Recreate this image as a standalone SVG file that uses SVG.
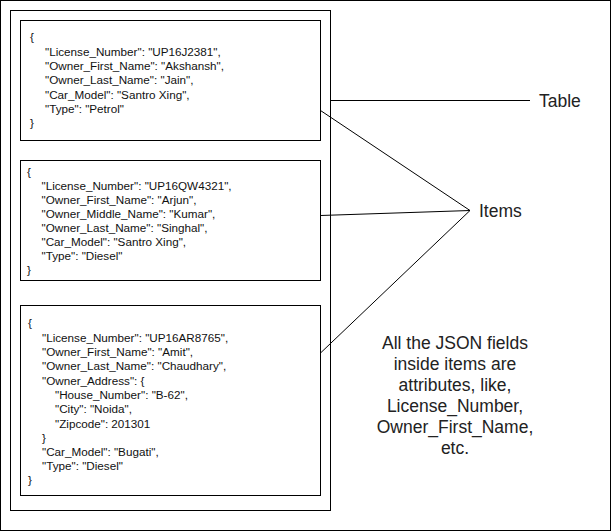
<svg xmlns="http://www.w3.org/2000/svg" width="611" height="531" viewBox="0 0 611 531">
<style>
.box{fill:#fff;stroke:#000;stroke-width:1}
.json{font-family:"Liberation Sans",Arial,sans-serif;font-size:11.7px;fill:#111}
.lbl{font-family:"Liberation Sans",Arial,sans-serif;font-size:17.5px;fill:#222}
.con{stroke:#000;stroke-width:1;fill:none}
</style>
<rect x="0.5" y="0.5" width="610" height="530" fill="#fff" stroke="#000"/>
<g id="table"><rect class="box" x="10.5" y="10.5" width="320" height="500"/></g>
<g id="item1">
<rect class="box" x="20.5" y="20.5" width="300" height="120"/>
<text class="json" x="30" y="41">{</text>
<text class="json" x="45" y="56">"License_Number": "UP16J2381",</text>
<text class="json" x="45" y="70">"Owner_First_Name": "Akshansh",</text>
<text class="json" x="45" y="84">"Owner_Last_Name": "Jain",</text>
<text class="json" x="45" y="99">"Car_Model": "Santro Xing",</text>
<text class="json" x="45" y="113">"Type": "Petrol"</text>
<text class="json" x="30" y="127">}</text>
</g>
<g id="item2">
<rect class="box" x="20.5" y="160.5" width="300" height="120"/>
<text class="json" x="27" y="176">{</text>
<text class="json" x="41.5" y="190">"License_Number": "UP16QW4321",</text>
<text class="json" x="41.5" y="204">"Owner_First_Name": "Arjun",</text>
<text class="json" x="41.5" y="218">"Owner_Middle_Name": "Kumar",</text>
<text class="json" x="41.5" y="232">"Owner_Last_Name": "Singhal",</text>
<text class="json" x="41.5" y="246">"Car_Model": "Santro Xing",</text>
<text class="json" x="41.5" y="260">"Type": "Diesel"</text>
<text class="json" x="27" y="274">}</text>
</g>
<g id="item3">
<rect class="box" x="20.5" y="305.5" width="300" height="190"/>
<text class="json" x="28" y="327">{</text>
<text class="json" x="42" y="342">"License_Number": "UP16AR8765",</text>
<text class="json" x="42" y="356">"Owner_First_Name": "Amit",</text>
<text class="json" x="42" y="370">"Owner_Last_Name": "Chaudhary",</text>
<text class="json" x="42" y="385">"Owner_Address": {</text>
<text class="json" x="55" y="399">"House_Number": "B-62",</text>
<text class="json" x="55" y="413">"City": "Noida",</text>
<text class="json" x="55" y="428">"Zipcode": 201301</text>
<text class="json" x="42" y="442">}</text>
<text class="json" x="42" y="456">"Car_Model": "Bugati",</text>
<text class="json" x="42" y="470">"Type": "Diesel"</text>
<text class="json" x="28" y="484">}</text>
</g>
<g id="connectors">
<line class="con" x1="330.5" y1="100.5" x2="530" y2="100.5"/>
<line class="con" x1="320.5" y1="110.5" x2="470" y2="210.5"/>
<line class="con" x1="320.5" y1="215.5" x2="470" y2="210.5"/>
<line class="con" x1="320.5" y1="353" x2="470" y2="210.5"/>
</g>
<g id="label-table"><text class="lbl" x="539" y="106.5">Table</text></g>
<g id="label-items"><text class="lbl" x="479" y="216.5">Items</text></g>
<g id="note">
<text class="lbl" text-anchor="middle" x="455" y="349">All the JSON fields</text>
<text class="lbl" text-anchor="middle" x="455" y="370">inside items are</text>
<text class="lbl" text-anchor="middle" x="455" y="391">attributes, like,</text>
<text class="lbl" text-anchor="middle" x="455" y="412">License_Number,</text>
<text class="lbl" text-anchor="middle" x="455" y="433">Owner_First_Name,</text>
<text class="lbl" text-anchor="middle" x="455" y="454">etc.</text>
</g>
</svg>
